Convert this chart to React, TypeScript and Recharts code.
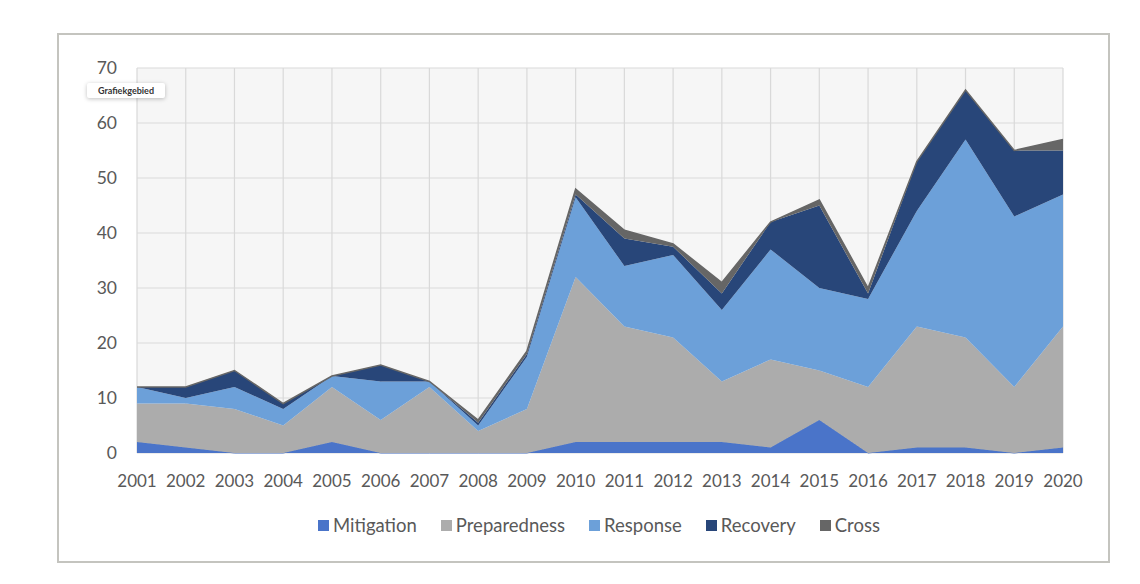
import React from 'react';
import { AreaChart, Area, XAxis, YAxis, CartesianGrid, Legend } from 'recharts';

const years = ['2001','2002','2003','2004','2005','2006','2007','2008','2009','2010','2011','2012','2013','2014','2015','2016','2017','2018','2019','2020'];
const mitigation   = [2, 1, 0, 0, 2, 0, 0, 0, 0, 2, 2, 2, 2, 1, 6, 0, 1, 1, 0, 1];
const preparedness = [7, 8, 8, 5, 10, 6, 12, 4, 8, 30, 21, 19, 11, 16, 9, 12, 22, 20, 12, 22];
const response     = [3, 1, 4, 3, 2, 7, 1, 1, 9.5, 14.5, 11, 15, 13, 20, 15, 16, 21, 36, 31, 24];
const recovery     = [0, 2, 3, 1, 0, 3, 0, 0.5, 0.5, 0.5, 5, 1.5, 3, 5, 15, 1, 9, 9, 12, 8];
const cross        = [0, 0, 0, 0, 0, 0, 0, 0.5, 0.5, 1, 1.5, 0.5, 2, 0, 1, 1, 0, 0, 0, 2];
const yTicks = [0, 10, 20, 30, 40, 50, 60, 70];

const seriesNames = ['Mitigation', 'Preparedness', 'Response', 'Recovery', 'Cross'];
const colors = ['#4a74c9', '#acacac', '#6ca0d9', '#284679', '#666666'];

const data = years.map((y, i) => ({
  year: y,
  Mitigation: mitigation[i],
  Preparedness: preparedness[i],
  Response: response[i],
  Recovery: recovery[i],
  Cross: cross[i],
}));

const FONT = 'Lato, "Open Sans", sans-serif';

const LegendContent = () => (
  <div style={{ height: 30, display: 'flex', justifyContent: 'center', alignItems: 'center', fontFamily: FONT, fontSize: 18.5, color: '#595959' }}>
    {seriesNames.map((n, i) => (
      <div key={n} style={{ display: 'flex', alignItems: 'center', marginRight: i < seriesNames.length - 1 ? 24 : 0 }}>
        <span style={{ width: 11, height: 11, background: colors[i], display: 'inline-block', marginRight: 4 }} />
        <span>{n}</span>
      </div>
    ))}
  </div>
);

export default function App() {
  return (
    <div style={{ position: 'absolute', left: 0, top: 0, width: 1140, height: 584, background: '#fff' }}>
      <div style={{ position: 'absolute', left: 57, top: 33, width: 1049, height: 526, border: '2px solid #c4c4bf' }} />
      <AreaChart width={1140} height={584} data={data} margin={{ top: 68, right: 77, left: 0, bottom: 61 }}>
        <CartesianGrid stroke="#d9d9d9" fill="#f6f6f6" strokeWidth={1.2} />
        <XAxis dataKey="year" axisLine={false} tickLine={false} tickSize={0} tickMargin={22} height={40}
          tick={{ fill: '#595959', fontSize: 17, fontFamily: FONT }} interval={0} />
        <YAxis domain={[0, 70]} ticks={yTicks} axisLine={false} tickLine={false} tickSize={0} tickMargin={20} width={137}
          tick={{ fill: '#595959', fontSize: 17.5, fontFamily: FONT }} />
        {seriesNames.map((n, i) => (
          <Area key={n} type="linear" dataKey={n} stackId="1" fill={colors[i]} fillOpacity={1}
            stroke={i === 0 || i === 4 ? colors[i] : 'none'} strokeWidth={i === 4 ? 1.5 : 1} isAnimationActive={false} />
        ))}
        <Legend content={<LegendContent />} verticalAlign="bottom" wrapperStyle={{ top: 510, bottom: 'auto', left: 29, width: 1140 }} />
      </AreaChart>
      <div style={{ position: 'absolute', left: 87, top: 83, width: 78, height: 15, background: '#fff', boxShadow: '0 1px 4px rgba(0,0,0,0.25)', borderRadius: 2, fontFamily: FONT, fontWeight: 700, fontSize: 9, color: '#333', display: 'flex', alignItems: 'center', justifyContent: 'center' }}>
        Grafiekgebied
      </div>
    </div>
  );
}
